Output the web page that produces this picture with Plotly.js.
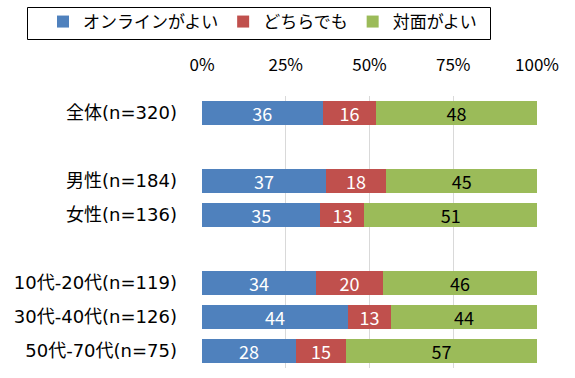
<!DOCTYPE html>
<html>
<head>
<meta charset="utf-8">
<script src="https://cdn.plot.ly/plotly-3.0.1.min.js"></script>
<style>html,body{margin:0;padding:0;background:#fff;}</style>
</head>
<body>
<div id="chart" style="width:575px;height:378px;"></div>
<script>
const categories = ["全体(n=320)", "男性(n=184)", "女性(n=136)", "10代-20代(n=119)", "30代-40代(n=126)", "50代-70代(n=75)"];
const rowSlots = [0, 2, 3, 5, 6, 7];
const seriesNames = ["オンラインがよい", "どちらでも", "対面がよい"];
const online = [36, 37, 35, 34, 44, 28];
const either = [16, 18, 13, 20, 13, 15];
const faceToFace = [48, 45, 51, 46, 44, 57];
const tickVals = [0, 25, 50, 75, 100];
const tickLabels = ["0%", "25%", "50%", "75%", "100%"];
const colors = ["#4F81BD", "#C0504D", "#9BBB59"];
const labelColors = ["#ffffff", "#ffffff", "#000000"];

const FONT = '"Noto Sans CJK JP", "Noto Sans", sans-serif';
const CATFONT = '"DejaVu Sans", "Noto Sans CJK JP", sans-serif';
const seriesValues = [online, either, faceToFace];

const traces = seriesValues.map((vals, i) => ({
  type: 'bar',
  orientation: 'h',
  name: seriesNames[i],
  x: vals,
  y: rowSlots,
  text: vals.map(String),
  texttemplate: '%{text}',
  textposition: 'inside',
  insidetextanchor: 'middle',
  textangle: 0,
  constraintext: 'none',
  textfont: {family: FONT, size: 18, color: labelColors[i]},
  marker: {color: colors[i], line: {width: 0}},
  width: 0.68,
  hoverinfo: 'skip'
}));

const W = 575, H = 378;
const L = 202, R = 537, T = 96, B = 368;
const px2x = p => (p - L) / (R - L);
const px2y = p => (B - p) / (B - T);

const layout = {
  width: W, height: H,
  margin: {l: L, r: W - R, t: T, b: H - B, pad: 0, autoexpand: false},
  paper_bgcolor: '#ffffff',
  plot_bgcolor: '#ffffff',
  barmode: 'stack',
  barnorm: 'percent',
  font: {family: FONT, size: 16, color: '#000000'},
  showlegend: true,
  legend: {
    orientation: 'h',
    traceorder: 'normal',
    x: px2x(43), xanchor: 'left',
    y: px2y(4), yanchor: 'top',
    font: {family: FONT, size: 17, color: '#000000'},
    borderwidth: 0,
    bgcolor: 'rgba(0,0,0,0)',
    itemclick: false
  },
  xaxis: {
    side: 'top',
    range: [0, 100],
    tickvals: tickVals,
    ticktext: tickLabels,
    showgrid: true,
    gridcolor: '#d9d9d9',
    gridwidth: 1,
    zeroline: false,
    showline: false,
    ticks: '',
    ticklabelstandoff: 21,
    tickfont: {family: FONT, size: 17, color: '#000000'},
    fixedrange: true
  },
  yaxis: {
    range: [7.5, -0.5],
    tickvals: rowSlots,
    ticktext: categories,
    showgrid: false,
    zeroline: false,
    showline: false,
    ticks: '',
    ticklabelstandoff: 24,
    tickfont: {family: CATFONT, size: 18, color: '#000000'},
    fixedrange: true
  },
  shapes: [{
    type: 'rect', xref: 'paper', yref: 'paper',
    x0: px2x(27.5), x1: px2x(490.5), y0: px2y(39.5), y1: px2y(7.5),
    line: {color: '#000000', width: 1}, fillcolor: 'rgba(0,0,0,0)', layer: 'above'
  }]
};

Plotly.newPlot('chart', traces, layout, {displayModeBar: false, staticPlot: true});
</script>
</body>
</html>
